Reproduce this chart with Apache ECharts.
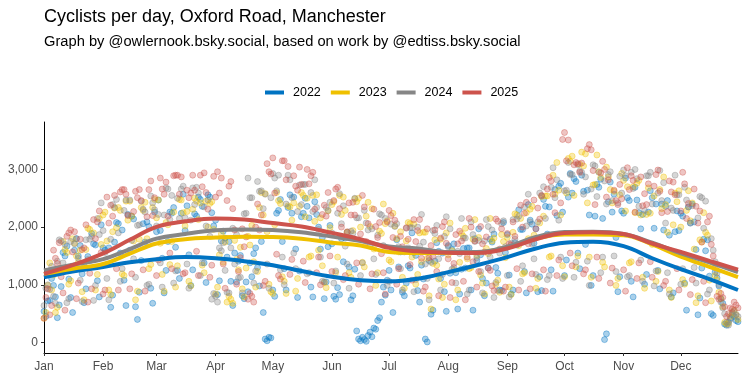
<!DOCTYPE html>
<html><head><meta charset="utf-8">
<script src="https://cdn.jsdelivr.net/npm/echarts@6/dist/echarts.min.js"></script>
<style>html,body{margin:0;padding:0;background:#fff}#c{width:745px;height:379px}</style>
</head><body><div id="c"></div>
<script>
const years = ['2022', '2023', '2024', '2025'];
const colors = ['#0073C2', '#EFC000', '#868686', '#CD534C'];
const monthLabels = ['Jan','Feb','Mar','Apr','May','Jun','Jul','Aug','Sep','Oct','Nov','Dec'];
const monthStartDays = [0,31,59,90,120,151,181,212,243,273,304,334];
const yTicks = [0, 1000, 2000, 3000];

// daily counts, one value per day of year (day 0 = 1 Jan), 7 days per row
const v2022 = [
540,450,720,730,1110,990,790,
430,650,970,1560,1500,1670,1100,
780,520,1600,1800,1500,1680,1190,
690,930,1490,1420,1890,1710,1690,
1070,790,2040,1640,1600,1350,1640,
610,820,1740,2080,2060,1550,1950,
1080,640,2220,1600,2190,2140,620,
400,870,1420,2060,1740,2090,2010,
940,680,2260,1920,2470,1940,1460,
860,1250,1750,2260,2240,2340,1650,
1250,1110,2240,2570,1940,2370,1520,
990,1260,2230,2190,2520,2480,2360,
1380,1040,2560,2520,2250,2020,2120,
830,1070,1760,1930,1810,1480,1750,
1060,640,1550,1050,1410,1510,810,
760,1050,880,1380,1140,1540,1640,
1300,980,1750,520,60,30,90,
80,910,800,2240,2290,2480,1750,
1280,910,2340,2560,2240,2520,1620,
780,1240,2180,2240,2500,2360,2160,
960,790,2440,2220,2000,1620,1820,
760,1050,1660,2030,1710,800,750,
950,830,1800,1400,1810,1910,1310,
740,810,1270,200,60,30,90,
50,20,120,180,100,250,230,
380,430,700,960,820,1080,1250,
910,520,1590,1780,1310,1570,870,
810,1030,1330,1290,1900,1560,1510,
900,700,1340,1100,60,10,1420,
490,560,1410,1730,1580,1110,1550,
880,540,1680,1200,1610,1710,1210,
580,840,1270,1630,1290,1640,1640,
910,560,1800,1420,1970,1520,1110,
810,1030,1290,1790,1740,1880,1300,
1200,910,900,2080,1560,1870,1170,
840,910,1730,1690,2300,1960,1960,
1230,860,2390,2120,2050,1720,1970,
880,1140,900,2480,2360,1880,2350,
1260,890,2650,2200,2710,2760,2260,
1160,1430,2520,2930,2590,2840,2790,
1550,1280,2900,2620,1700,2640,2210,
990,1160,2190,2740,2690,2830,2150,
50,150,2440,2780,2260,2570,1820,
880,1140,2280,2240,2850,2510,2460,
1060,790,2690,2470,2250,1970,2220,
1010,1180,2260,2630,2510,1980,2400,
1250,930,2400,1950,2360,2460,1860,
790,860,1920,2280,1940,2240,2190,
1030,560,2350,2070,2400,2090,1610,
480,770,1290,1790,1590,1780,1150,
500,470,1220,1120,980,760,680,
320,300,350,420,480,450,380,
360];

const v2023 = [
420,520,990,1380,910,1170,520,
610,1280,1240,1750,1610,1560,1010,
1070,1800,1720,1500,1390,1600,880,
740,1610,1980,1960,1430,1900,910,
1180,2150,1700,2210,2260,1760,910,
830,1920,2330,1990,2340,2290,1190,
1160,2450,2120,2450,2190,1760,740,
890,1790,2340,2290,2430,1800,1280,
1350,2340,2480,2160,2470,1720,1180,
890,2080,2040,1350,1750,2260,960,
1330,2480,2470,2250,2020,2270,1060,
980,2310,2500,2450,2130,2420,1340,
1210,2450,2000,2410,2440,1960,840,
960,1520,1880,1390,1740,700,800,
750,680,1770,1440,1260,1650,930,
790,1290,1840,1690,2030,1400,960,
1230,2340,2600,2210,2580,1920,1010,
880,850,2040,2600,2460,2410,1140,
1060,850,2370,2350,2120,2420,890,
1110,2360,2600,2550,2180,2500,1480,
1500,2550,2100,2560,1600,2160,1330,
1040,950,2280,1990,2390,2440,1210,
1480,2550,2220,2520,2290,1910,1210,
1130,1940,2490,2440,2500,2000,1390,
1310,2190,2430,2010,2320,1620,990,
1210,1930,1890,2400,2060,2110,1430,
1400,2240,2020,1800,1570,1920,1130,
940,1760,2080,2060,1480,2050,1010,
1180,1900,1400,1910,1910,1460,810,
580,1370,1780,1340,1100,1790,780,
1010,1900,1520,2070,1590,1260,740,
910,1390,1890,1840,1980,1450,1280,
1300,1790,2130,1510,1820,1170,1030,
840,1630,1540,2150,1760,1810,1010,
1080,870,1870,1750,1470,1820,960,
830,1910,2230,2210,1680,2150,1190,
1210,2250,1800,2310,2360,1860,940,
1110,2070,2530,2190,2540,2540,1480,
1500,2900,2570,3120,2640,2210,1330,
1140,2590,3190,3140,3230,2550,1310,
1500,3090,3300,3060,3270,2420,1480,
1130,2730,2740,3250,2960,2860,1390,
1310,3040,2870,2650,2420,2620,990,
1110,2560,2930,2810,2280,2700,1380,
1400,2700,2250,2760,2810,2210,1130,
940,2220,2680,2240,1700,2540,1060,
1230,2650,2320,2870,2390,1910,910,
780,2040,2590,2440,2630,2000,1090,
1010,2290,2630,2110,2420,1620,690,
810,1780,1740,2250,1910,1860,1080,
720,1340,1160,1080,870,760,620,
350,320,330,450,520,560,480,
400];

const v2024 = [
640,940,1000,920,1320,800,680,
1410,1780,1760,1380,1700,690,760,
1750,1300,1710,1800,1460,1080,710,
1370,1780,1440,1790,1840,730,990,
2150,1870,2420,1940,1560,1110,740,
1790,2390,2340,2480,1900,1060,1280,
2290,2470,2210,2470,1770,1450,1130,
2030,2040,2450,2310,2260,990,1010,
2540,2420,2300,2020,2220,1380,960,
2210,2680,2660,2130,2550,1030,1240,
2500,2150,2660,2710,2160,1360,940,
2120,2680,2390,2690,2590,1160,1380,
2350,2020,2470,1840,750,850,800,
700,1640,1590,1730,1250,870,860,
1640,1980,1360,1870,1120,1130,860,
2230,2240,2850,2510,2510,1030,1240,
2790,2620,2630,2320,2570,1360,940,
2510,2930,2850,2630,2900,1260,1480,
1000,2400,2900,2820,2510,1550,1280,
2270,2730,2390,2740,2740,1190,1210,
2600,2270,2820,2340,1960,1480,1060,
1050,2340,2290,2430,1900,1030,1240,
2240,2580,2060,2370,1670,1360,940,
1930,1890,2500,2160,2160,1160,1380,
2290,2070,1950,1670,1970,1450,1180,
1860,2230,2210,1680,2150,990,1060,
2050,1600,2010,2060,1660,1280,910,
1570,1980,1640,1990,1990,880,1090,
2000,1670,2220,1740,1360,1110,740,
1390,1940,1890,2030,1450,910,1180,
1840,2180,1660,1970,1270,1300,1030,
1580,1540,2150,1810,1810,840,910,
2090,1870,1750,1470,1770,1230,860,
1760,2130,2010,1480,1950,780,1040,
900,1550,2060,2110,1660,1160,790,
1720,2130,1790,2140,2190,1060,1330,
2350,2020,2570,2090,1710,1450,1180,
2090,2590,2540,2700,2150,1090,1160,
2690,3030,2510,2820,2120,1480,1110,
2630,2640,3120,2910,2910,1130,1390,
3080,2970,2950,2570,2870,1410,990,
2660,3080,3060,2530,2950,1210,1480,
2800,2400,2910,2960,2460,1500,1230,
2420,2880,2590,2990,2890,1140,1160,
2950,2670,3000,2840,2360,1430,1060,
2290,2890,2890,2950,2400,980,1240,
2590,2980,2460,2770,2070,1210,840,
2330,2290,2900,2560,2560,1010,1280,
2690,2470,2350,2070,2370,1300,1030,
2160,2530,2510,1980,2450,840,910,
1800,1600,1400,1200,1000,700,600,
500,350,300,400,520,550,480,
450];

const v2025 = [
420,780,930,480,640,1600,1460,
1370,1730,1140,860,560,1840,1900,
1950,1570,1920,760,1030,1790,1610,
1640,2040,700,1200,930,2130,1800,
2090,2280,1560,840,910,2520,2070,
2380,2190,2550,1280,910,2610,2650,
2650,2570,2200,930,1190,2270,2620,
2510,2650,2460,1260,890,2180,2650,
2800,2200,2510,1160,1430,2850,2660,
2570,2780,2190,1550,1280,2890,2900,
2900,2570,2870,1190,1210,2640,2510,
2590,2900,2640,1580,1160,2900,2700,
2940,2600,2310,1130,1340,2880,2520,
2960,2590,2850,1360,940,2460,2710,
2790,2320,1950,1010,1230,1470,1970,
1660,1830,750,850,800,700,2000,
2400,1950,2210,990,1060,3100,2960,
2920,3200,2590,1530,1160,1100,3150,
3150,2820,3050,1180,1440,2890,2710,
2640,3040,2740,1410,1040,3000,2750,
2890,2950,2310,1210,1480,1000,2220,
2380,2190,2600,1500,1230,2460,2660,
2690,2320,2000,1090,1160,1920,2420,
2210,2430,2210,1380,1010,1880,2550,
2350,1750,2060,930,1190,2310,2010,
1820,2080,1540,1210,840,2090,2290,
2200,1820,2120,1010,1280,1840,1660,
1590,1990,1790,1350,1080,2130,1750,
1940,2130,1460,890,960,1970,1470,
1680,1490,1950,1230,810,1810,2010,
2090,1720,1450,780,1040,1370,1870,
1710,1930,1760,1060,740,1480,2150,
2000,1400,1760,960,1230,2010,1710,
1570,1830,1290,1250,980,900,2140,
2100,1620,1970,890,960,1890,1710,
1690,2090,1840,1280,910,2380,2000,
2240,2430,1710,930,1190,2470,1970,
2330,2140,2550,1260,890,2660,2860,
2800,2570,2250,1160,1430,2420,3520,
3640,3150,3510,1550,1330,3080,3120,
3100,2950,3110,1190,1260,3360,3430,
3340,2980,2390,1480,1110,2940,3140,
3000,2520,2820,1030,1290,2640,2460,
2390,2740,2490,1260,890,3030,2650,
2890,2810,2260,1110,1380,2870,2370,
2580,2390,2750,1400,1130,2710,2910,
2990,2620,2250,990,1060,2270,2800,
2610,2780,2560,1280,910,2280,2950,
2750,2150,2410,830,1090,2660,2360,
2070,2280,1740,1060,690,2090,2190,
1700,1500,1300,800,750,850,780,
620,450,500,600,580,700,650,
600];

// smoothed trend per year, sampled at these days
const smoothDays = [0,15,31,45,59,74,90,105,120,135,151,166,181,196,212,227,243,258,273,288,304,319,334,349,364];
const smooth2022 = [1130,1230,1310,1390,1445,1480,1460,1410,1340,1240,1140,1080,1060,1105,1220,1340,1480,1630,1730,1745,1670,1460,1270,1100,910];
const smooth2023 = [1190,1280,1360,1540,1715,1790,1820,1835,1830,1800,1730,1680,1570,1553,1553,1560,1650,1800,1870,1870,1860,1700,1490,1310,1135];
const smooth2024 = [1250,1350,1445,1620,1800,1880,1945,1960,1950,1910,1835,1760,1665,1630,1570,1570,1660,1830,1915,1920,1880,1730,1545,1390,1220];
const smooth2025 = [1190,1340,1545,1780,2005,2100,2150,2130,2070,2010,1900,1790,1640,1580,1555,1550,1630,1790,1900,1910,1880,1716,1570,1414,1264];

const dailyByYear = [v2022, v2023, v2024, v2025];
const smoothByYear = [smooth2022, smooth2023, smooth2024, smooth2025];

function rgba(hex, a) {
  const n = parseInt(hex.slice(1), 16);
  return 'rgba(' + ((n >> 16) & 255) + ',' + ((n >> 8) & 255) + ',' + (n & 255) + ',' + a + ')';
}
const FONT = 'Liberation Sans, Arial, sans-serif';

const series = [];
years.forEach((y, k) => {
  series.push({
    type: 'scatter', name: y + ' daily', silent: true, z: 2,
    data: dailyByYear[k].map((v, i) => [i, v]),
    symbol: 'circle', symbolSize: 6,
    itemStyle: { color: rgba(colors[k], 0.42), borderColor: rgba(colors[k], 0.6), borderWidth: 0.8 }
  });
});
years.forEach((y, k) => {
  series.push({
    type: 'line', name: y, z: 3, silent: true,
    data: smoothDays.map((d, i) => [d, smoothByYear[k][i]]),
    smooth: 0.4, showSymbol: false, symbol: 'none',
    lineStyle: { width: 4, color: colors[k] }, itemStyle: { color: colors[k] }
  });
});

const chart = echarts.init(document.getElementById('c'), null, { renderer: 'canvas' });
chart.setOption({
  animation: false,
  backgroundColor: '#fff',
  title: [
    { text: 'Cyclists per day, Oxford Road, Manchester', left: 44, top: 8, padding: 0,
      textStyle: { fontSize: 18, fontWeight: 'normal', color: '#000', fontFamily: FONT } },
    { text: 'Graph by @owlernook.bsky.social, based on work by @edtiss.bsky.social', left: 44, top: 34, padding: 0,
      textStyle: { fontSize: 14.7, fontWeight: 'normal', color: '#000', fontFamily: FONT } }
  ],
  legend: {
    data: years.map(y => ({ name: y, icon: 'rect' })),
    left: 265, top: 86, padding: 0, itemWidth: 19, itemHeight: 4, itemGap: 10,
    textStyle: { fontSize: 12.5, color: '#000', fontFamily: FONT, padding: [0, 0, 0, 4] }
  },
  grid: { left: 44, right: 7, top: 122, bottom: 26, containLabel: false, outerBoundsMode: 'none' },
  xAxis: {
    type: 'value', min: 0, max: 364,
    axisLine: { show: true, onZero: false, lineStyle: { color: '#000', width: 1 } },
    axisTick: { show: true, customValues: monthStartDays, length: 3, lineStyle: { color: '#333', width: 1 } },
    axisLabel: { customValues: monthStartDays, formatter: v => monthLabels[monthStartDays.indexOf(v)],
      color: '#4D4D4D', fontSize: 12, margin: 8, fontFamily: FONT },
    splitLine: { show: false }
  },
  yAxis: {
    type: 'value', min: -182, max: 3822,
    axisLine: { show: true, onZero: false, lineStyle: { color: '#000', width: 1 } },
    axisTick: { show: true, customValues: yTicks, length: 3, lineStyle: { color: '#333', width: 1 } },
    axisLabel: { customValues: yTicks, formatter: v => v.toLocaleString('en-US'),
      color: '#4D4D4D', fontSize: 12, margin: 6, fontFamily: FONT },
    splitLine: { show: false }
  },
  series: series
});
</script></body></html>
